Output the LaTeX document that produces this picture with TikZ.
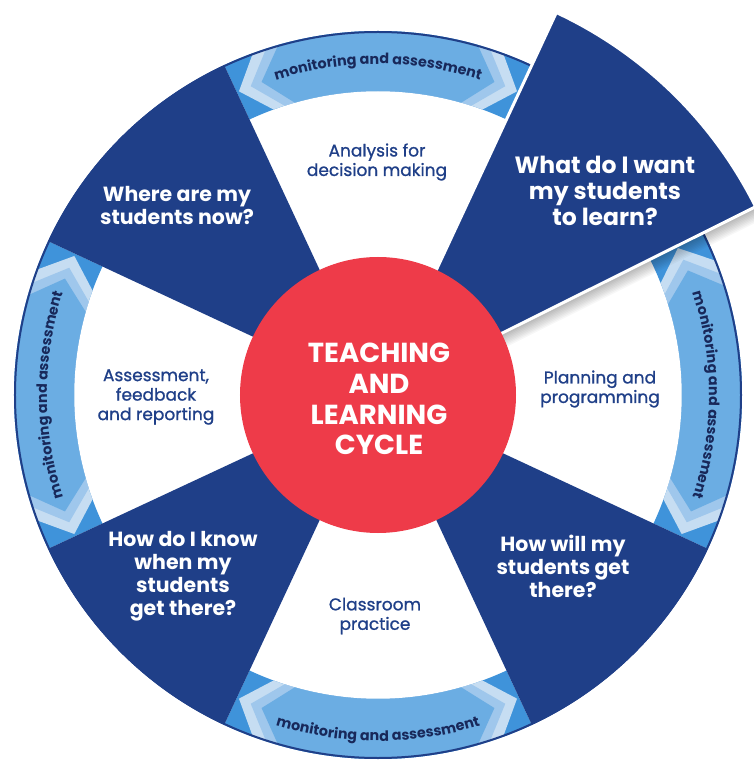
\documentclass[tikz,border=0pt]{standalone}
\usepackage{fontspec}
\setmainfont{Poppins}
\newfontfamily\activityfont{Poppins}[FakeBold=1]
\usetikzlibrary{decorations.text}
\definecolor{navy}{HTML}{1F3F88}
\definecolor{cyclered}{HTML}{EE3B49}
\definecolor{banddark}{HTML}{3F93DA}
\definecolor{bandlight}{HTML}{C6DDF2}
\definecolor{bandmid}{HTML}{9FC7EC}
\definecolor{bandbase}{HTML}{6BADE3}
\definecolor{ringtext}{HTML}{18285A}
\newcommand\ringin{304}
\newcommand\ringout{364}
\newcommand\ringmid{334}
\newcommand\monband[2]{%
  \fill[banddark] (#1:\ringin) arc[start angle=#1,end angle=#2,radius=\ringin]
    -- (#2:\ringout) arc[start angle=#2,end angle=#1,radius=\ringout] -- cycle;
  \foreach \o/\c in {0.4/bandlight,2.6/bandmid,4.6/bandbase}{
    \fill[\c] (#1+\o+4.5:\ringin) -- (#1+\o:\ringmid) -- (#1+\o+4.5:\ringout)
      arc[start angle=#1+\o+4.5,end angle=#2-\o-4.5,radius=\ringout]
      -- (#2-\o:\ringmid) -- (#2-\o-4.5:\ringin)
      arc[start angle=#2-\o-4.5,end angle=#1+\o+4.5,radius=\ringin] -- cycle;
  }%
}
\begin{document}
\begin{tikzpicture}[x=1pt,y=1pt,
  question/.style={text=white,font=\bfseries\fontsize{20.5}{23}\selectfont,align=center},
  activity/.style={text=navy,font=\activityfont\fontsize{17}{19.5}\selectfont,align=center},
  ringlabel/.style={decorate,decoration={text along path,text align=center,
    text color=ringtext,text={|\bfseries\fontsize{14.3}{14.3}\selectfont|monitoring and assessment}}},
]
\useasboundingbox (-378,-365) rectangle (376,395);
\fill[white] (-378,-365) rectangle (376,395);
\clip (-378,-365) rectangle (376,395);

\monband{65}{115}
\monband{155}{205}
\monband{245}{295}
\monband{-25}{26.5}

\foreach \a in {115,205,295}
  \fill[navy] (0,0) -- (\a:364) arc[start angle=\a,end angle=\a+40,radius=364] -- cycle;
\draw[navy,line width=2] (0,0) circle[radius=363];

\path[ringlabel] (112:331) arc[start angle=112,end angle=68,radius=331];
\path[ringlabel] (205:331) arc[start angle=205,end angle=155,radius=331];
\path[ringlabel] (25:331) arc[start angle=25,end angle=-25,radius=331];
\path[ringlabel] (245:346) arc[start angle=245,end angle=295,radius=346];

\foreach \k in {1,...,10}
  \fill[black,opacity=0.03,shift={(0.6*\k,-1.3*\k)}] (0,0) -- (26.5:422)
    arc[start angle=26.5,end angle=65,radius=422] -- cycle;
\filldraw[fill=navy,draw=white,line width=3] (0,0) -- (26.5:422)
  arc[start angle=26.5,end angle=65,radius=422] -- cycle;

\node[circle,fill=cyclered,minimum size=276,inner sep=0] (hub) at (0,0) {};
\node[text=white,font=\bfseries\fontsize{27.5}{30.7}\selectfont,align=center] (cycle) at (1,-4)
  {TEACHING\\AND\\LEARNING\\CYCLE};

\node[question,font=\bfseries\fontsize{23.5}{26}\selectfont] (want) at (227,204) {What do I want\\my students\\to learn?};
\node[question] (where) at (-201,190) {Where are my\\students now?};
\node[question] (know) at (-195,-181) {How do I know\\when my\\students\\get there?};
\node[question] (get) at (185,-171) {How will my\\students get\\there?};
\node[activity] (analysis) at (-1,233) {Analysis for\\decision making};
\node[activity] (assess) at (-222,-2) {Assessment,\\feedback\\and reporting};
\node[activity] (plan) at (222,6) {Planning and\\programming};
\node[activity] (practice) at (-3,-221) {Classroom\\practice};
\end{tikzpicture}
\end{document}
